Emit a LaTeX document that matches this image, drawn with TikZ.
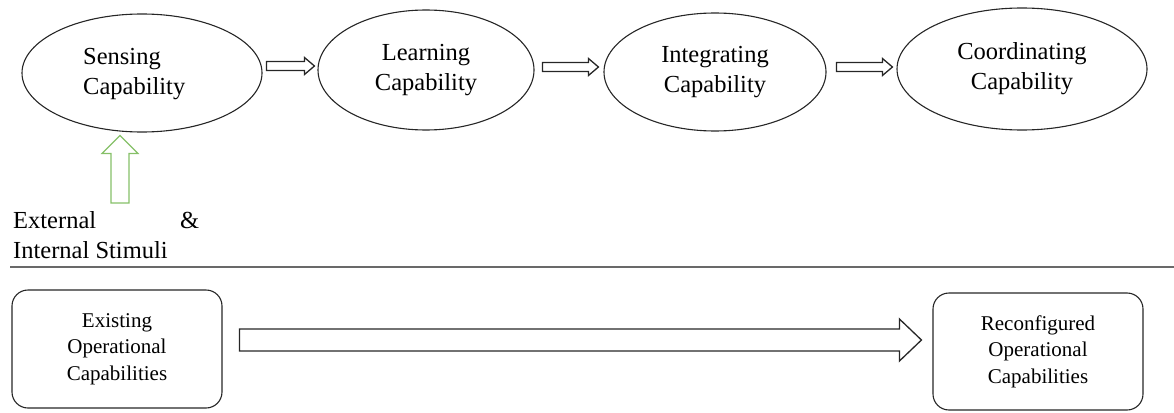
\documentclass[tikz,border=0pt]{standalone}
\usepackage{fontspec}
\setmainfont{Liberation Serif}
\usetikzlibrary{calc,shapes.geometric}
\definecolor{stimgreen}{RGB}{134,192,104}
\definecolor{rulegray}{RGB}{105,105,105}

% Hollow block arrow from #2 (tail) to #3 (tip):
% #4 half shaft width, #5 half head width, #6 head length
\newcommand\hollowarrow[6][]{%
  \coordinate (hb) at ($(#3)!#6!(#2)$);
  \draw[#1] ($(#2)!#4!90:(#3)$) -- ($(hb)!#4!90:(#3)$) -- ($(hb)!#5!90:(#3)$)
    -- (#3) -- ($(hb)!#5!-90:(#3)$) -- ($(hb)!#4!-90:(#3)$)
    -- ($(#2)!#4!-90:(#3)$) -- cycle;
}

\begin{document}
\begin{tikzpicture}[x=1pt,y=-1pt,
  capnode/.style={ellipse,draw=black!85,line width=1.1pt,inner sep=0pt,
    align=center,font=\fontsize{24.5}{30}\selectfont},
  captext/.style={inner sep=0pt,align=left,font=\fontsize{24.5}{30}\selectfont},
  opbox/.style={draw=black!85,line width=1.1pt,rounded corners=16pt,inner sep=0pt,
    align=center,font=\fontsize{21}{26.5}\selectfont},
  flow/.style={draw=black!85,line width=1.3pt,line join=miter},
  stimflow/.style={draw=stimgreen,line width=1.2pt,line join=miter},
  plain/.style={inner sep=0pt,anchor=base west,font=\fontsize{24.5}{30}\selectfont}
]
\useasboundingbox (0,0) rectangle (1174,412);

% capability chain
\node[capnode,minimum width=240pt,minimum height=118pt] (e1) at (142,73) {};
\node[captext,anchor=west] (t1) at ([xshift=-59pt,yshift=-1pt]e1.center) {Sensing\\Capability};
\node[capnode,minimum width=216pt,minimum height=120pt] (e2) at (426,70) {Learning\\Capability};
\node[capnode,minimum width=222pt,minimum height=118pt] (e3) at (715,72) {Integrating\\Capability};
\node[capnode,minimum width=250pt,minimum height=122pt] (e4) at (1022,69) {Coordinating\\Capability};

\path (e1.east |- 0,66) ++(4,0) coordinate (a1t);
\path (e2.west |- 0,66) ++(-3,0) coordinate (a1h);
\path (e2.east |- 0,67) ++(8,0) coordinate (a2t);
\path (e3.west |- 0,67) ++(-5,0) coordinate (a2h);
\path (e3.east |- 0,67) ++(10,0) coordinate (a3t);
\path (e4.west |- 0,67) ++(-4,0) coordinate (a3h);
\hollowarrow[flow]{a1t}{a1h}{4.5pt}{8.5pt}{10pt}
\hollowarrow[flow]{a2t}{a2h}{4.5pt}{8.5pt}{10pt}
\hollowarrow[flow]{a3t}{a3h}{4.5pt}{8.5pt}{10pt}

% stimuli feeding the sensing capability
\node[plain] (ext) at (13,228) {External};
\node[plain] (amp) at (180,228) {\&};
\node[plain] (int) at (13,258) {Internal Stimuli};
\coordinate (st) at (120,203);
\path (st |- e1.south) ++(0,3) coordinate (sh);
\hollowarrow[stimflow]{st}{sh}{9pt}{18pt}{18pt}

% separator
\draw[rulegray,line width=2pt] (10,267) -- (1174,267);

% operational capabilities
\node[opbox,minimum width=210pt,minimum height=118pt] (b1) at (117,349) {Existing\\Operational\\Capabilities};
\node[opbox,minimum width=210pt,minimum height=117pt] (b2) at (1038,351.5) {Reconfigured\\Operational\\Capabilities};
\path (b1.east |- 0,340) ++(17,0) coordinate (bt);
\path (b2.west |- 0,340) ++(-11,0) coordinate (bh);
\hollowarrow[flow]{bt}{bh}{11pt}{21pt}{22pt}
\end{tikzpicture}
\end{document}
